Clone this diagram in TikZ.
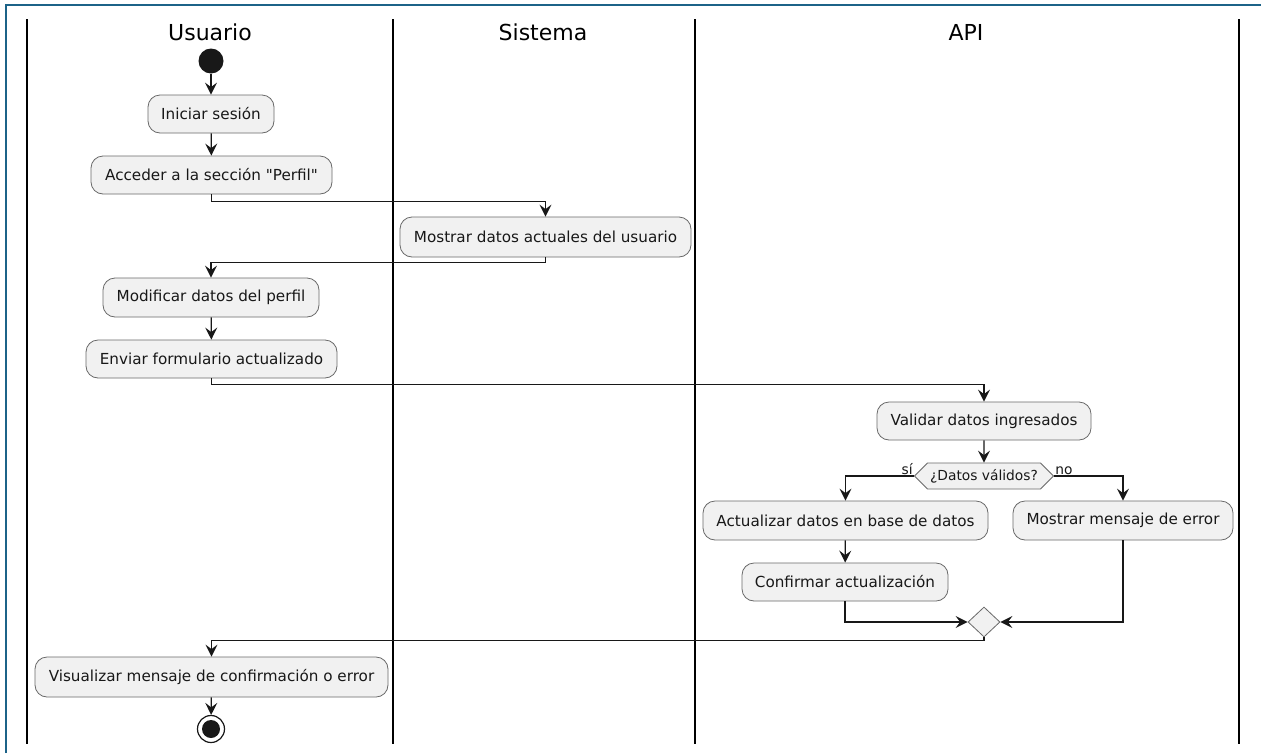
\documentclass[tikz,border=0pt]{standalone}
\usepackage{fontspec}
\setmainfont{DejaVu Sans}[Ligatures=TeXOff]
\usetikzlibrary{arrows.meta,shapes.geometric,shapes.symbols}
\definecolor{frame}{RGB}{28,99,136}
\definecolor{boxfill}{RGB}{241,241,241}
\definecolor{ink}{RGB}{24,24,24}
\definecolor{boxline}{RGB}{105,105,105}
\begin{document}
\begin{tikzpicture}[x=1pt,y=-1pt,
  lane/.style={line width=2pt, draw=black},
  header/.style={font=\fontsize{22}{26}\selectfont, text=black, inner sep=0pt},
  action/.style={rectangle, rounded corners=12pt, draw=boxline, fill=boxfill,
    line width=0.8pt, font=\fontsize{15.2}{18}\selectfont, text=ink,
    inner sep=0pt, minimum height=38pt},
  decision/.style={signal, signal to=west and east, draw=boxline, fill=boxfill,
    line width=0.8pt, font=\fontsize{13.8}{16}\selectfont, text=ink,
    inner xsep=0pt, inner ysep=0pt, minimum width=139pt, minimum height=26pt},
  merge/.style={diamond, draw=boxline, fill=boxfill, line width=0.8pt,
    inner sep=0pt, minimum width=32pt, minimum height=30pt},
  guard/.style={font=\fontsize{13.8}{16}\selectfont, text=ink, inner sep=1pt},
  flow/.style={draw=ink, line width=1.3pt,
    -{Stealth[length=12pt,width=12pt,inset=4.5pt]}},
]
\useasboundingbox (0,0) rectangle (1261,753);
\fill[white] (0,0) rectangle (1261,753);

% frame edges
\draw[frame, line width=2.5pt] (6,753) -- (6,5) -- (1261,5);

% swimlane separators
\foreach \lx in {27,392.5,694.5,1238.5}
  \draw[lane] (\lx,19) -- (\lx,744);

% swimlane titles
\node[header] (hUser) at (210,32) {Usuario};
\node[header] (hSys)  at (543,32) {Sistema};
\node[header] (hApi)  at (966,32) {API};

% Usuario
\node[circle, fill=ink, minimum size=25pt, inner sep=0pt] (start) at (211,61) {};
\node[action, minimum width=126pt] (login)   at (211,114)   {Iniciar sesión};
\node[action, minimum width=241pt] (profile) at (211.5,175) {Acceder a la sección "Perfil"};

% Sistema
\node[action, minimum width=291pt, minimum height=40pt] (show) at (545.5,237) {Mostrar datos actuales del usuario};

% Usuario
\node[action, minimum width=216pt, minimum height=39pt] (edit) at (211,297.5) {Modificar datos del perfil};
\node[action, minimum width=251pt] (send) at (211.5,359) {Enviar formulario actualizado};

% API
\node[action, minimum width=214pt] (validate) at (984,421) {Validar datos ingresados};
\node[decision] (valid) at (984,476) {¿Datos válidos?};
\node[guard, anchor=south east] (yes) at (valid.west) {sí};
\node[guard, anchor=south west] (no)  at (valid.east) {no};
\node[action, minimum width=285pt, minimum height=39pt] (update)  at (845.5,520.5) {Actualizar datos en base de datos};
\node[action, minimum width=220pt, minimum height=39pt] (error)   at (1123,520.5)  {Mostrar mensaje de error};
\node[action, minimum width=206pt] (confirm) at (845,582) {Confirmar actualización};
\node[merge] (join) at (984,622) {};

% Usuario
\node[action, minimum width=353pt, minimum height=40pt] (result) at (211.5,677) {Visualizar mensaje de confirmación o error};
\node[circle, draw=ink, line width=1.2pt, fill=white, minimum size=27pt, inner sep=0pt] (stop) at (211,729) {};
\node[circle, fill=ink, minimum size=18pt, inner sep=0pt] (stopdot) at (stop) {};

% control flow
\draw[flow] (start) -- (login);
\draw[flow] (login) -- (profile);
\draw[flow] (profile.south) -- ++(0,7) -| (show.north);
\draw[flow] (show.south) -- ++(0,5) -| (edit.north);
\draw[flow] (edit) -- (send);
\draw[flow] (send.south) -- ++(0,6) -| (validate.north);
\draw[flow] (validate) -- (valid);
\draw[flow] (valid.west) -| (update.north);
\draw[flow] (valid.east) -| (error.north);
\draw[flow] (update) -- (confirm);
\draw[flow] (confirm.south) |- (join.west);
\draw[flow] (error.south) |- (join.east);
\draw[flow] (join.south) -- ++(0,3) -| (result.north);
\draw[flow] (result) -- (stop);
\end{tikzpicture}
\end{document}
